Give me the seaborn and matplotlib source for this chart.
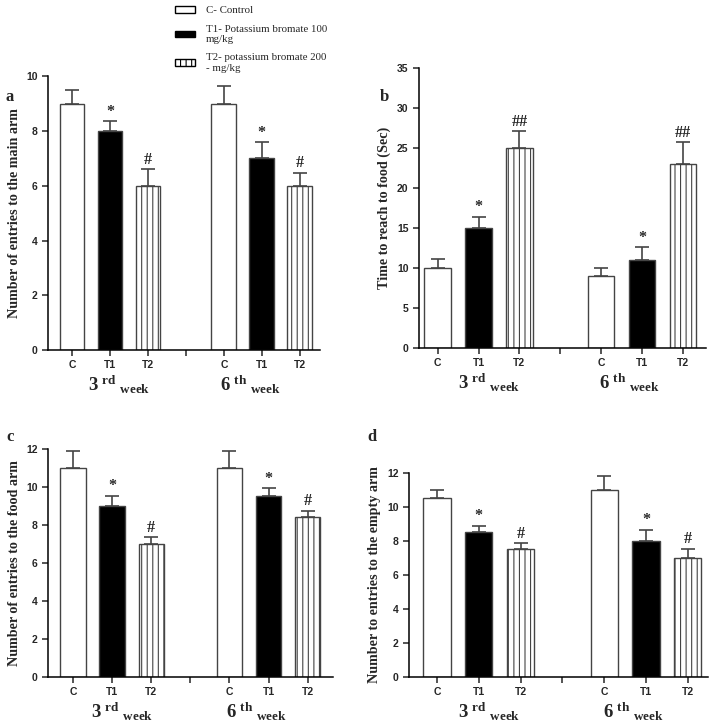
import pandas as pd
import seaborn as sns
import matplotlib.pyplot as plt
from matplotlib.patches import Patch

groups = ["C", "T1", "T2"]
weeks = ["3rd", "6th"]
slots = ["3rd C", "3rd T1", "3rd T2", "gap", "6th C", "6th T1", "6th T2"]
tick_labels = ["C", "T1", "T2", "", "C", "T1", "T2"]
week_labels = [r"$\mathbf{{3^{\ rd}}_{\ week}}$", r"$\mathbf{{6^{\ th}}_{\ week}}$"]

# panel a
main_arm = [9, 8, 6, 9, 7, 6]
main_arm_err = [0.5, 0.35, 0.6, 0.65, 0.6, 0.48]
# panel b
time_food = [10, 15, 25, 9, 11, 23]
time_food_err = [1.1, 1.4, 2.1, 1.0, 1.6, 2.7]
# panel c
food_arm = [11, 9, 7, 11, 9.5, 8.4]
food_arm_err = [0.9, 0.55, 0.35, 0.9, 0.45, 0.35]
# panel d
empty_arm = [10.5, 8.5, 7.5, 11, 8, 7]
empty_arm_err = [0.5, 0.4, 0.35, 0.8, 0.65, 0.55]

marks_single = ["", "*", "#", "", "*", "#"]
marks_double = ["", "*", "##", "", "*", "##"]

legend_labels = ["C- Control", "T1- Potassium bromate 100\nmg/kg",
                 "T2- potassium bromate 200\n- mg/kg"]

sns.set_style("ticks")
plt.rcParams["font.family"] = ["Liberation Sans", "DejaVu Sans"]
plt.rcParams["mathtext.fontset"] = "custom"
plt.rcParams["mathtext.rm"] = "Liberation Serif"
plt.rcParams["mathtext.bf"] = "Liberation Serif:bold"
plt.rcParams["hatch.linewidth"] = 0.8

EDGE = "#444444"
colors = {"C": "white", "T1": "black", "T2": "white"}


def make_df(values, errs, marks):
    rows = []
    i = 0
    for w in weeks:
        for g in groups:
            rows.append({"slot": f"{w} {g}", "group": g, "value": values[i],
                         "err": errs[i], "mark": marks[i]})
            i += 1
    return pd.DataFrame(rows)


def draw_panel(ax, df, ylabel, ymax, ystep, xlim):
    sns.barplot(data=df, x="slot", y="value", hue="group", order=slots,
                hue_order=groups, palette=colors, dodge=False, width=0.65,
                errorbar=None, edgecolor=EDGE, linewidth=1.0, legend=False, ax=ax)
    for p in ax.patches:
        cx = p.get_x() + p.get_width() / 2
        h = p.get_height()
        row = df[df["slot"] == slots[int(round(cx))]].iloc[0]
        if row["group"] == "T2":
            p.set_hatch("|||")
        ax.errorbar(cx, h, yerr=[[0], [row["err"]]], fmt="none", ecolor=EDGE,
                    elinewidth=1.2, capsize=5, capthick=1.2, zorder=1)
        if row["mark"]:
            ax.annotate(row["mark"], xy=(cx, h + row["err"]), xytext=(0, 1),
                        textcoords="offset points", ha="center", va="bottom",
                        fontsize=11.5, fontweight="bold", family="Liberation Serif")
    ax.set_xticks(range(len(slots)))
    ax.set_xticklabels(tick_labels, fontsize=7.5, fontweight="bold")
    ax.set_xlim(*xlim)
    ax.set_ylim(0, ymax)
    ax.set_yticks(range(0, ymax + 1, ystep))
    ax.tick_params(axis="y", labelsize=7.5, width=1.1, length=4)
    ax.tick_params(axis="x", width=1.1, length=4)
    for t in ax.get_yticklabels():
        t.set_fontweight("bold")
    ax.set_xlabel("")
    ax.set_ylabel(ylabel, fontsize=10.2, fontweight="bold", family="Liberation Serif",
                  labelpad=4)
    for s in ["left", "bottom"]:
        ax.spines[s].set_linewidth(1.1)
        ax.spines[s].set_color("black")
    sns.despine(ax=ax)
    for pos, lab in zip([1.25, 4.7], week_labels):
        ax.annotate(lab, xy=(pos, 0), xycoords=("data", "axes fraction"),
                    xytext=(0, -24), textcoords="offset pixels",
                    ha="center", va="top", fontsize=13.5)


fig = plt.figure(figsize=(7.1, 7.24), dpi=100)
ax_a = fig.add_axes([0.0676, 0.5166, 0.383, 0.378])
ax_b = fig.add_axes([0.590, 0.5193, 0.404, 0.387])
ax_c = fig.add_axes([0.0676, 0.0649, 0.401, 0.315])
ax_d = fig.add_axes([0.576, 0.0649, 0.421, 0.282])

draw_panel(ax_a, make_df(main_arm, main_arm_err, marks_single),
           "Number of entries to the main arm", 10, 2, (-0.63, 6.53))
draw_panel(ax_b, make_df(time_food, time_food_err, marks_double),
           "Time to reach to food (Sec)", 35, 5, (-0.46, 6.56))
draw_panel(ax_c, make_df(food_arm, food_arm_err, marks_single),
           "Number of entries to the food arm", 12, 2, (-0.64, 6.64))
draw_panel(ax_d, make_df(empty_arm, empty_arm_err, marks_single),
           "Number to entries to the empty arm", 12, 2, (-0.67, 6.48))

for letter, x, y in [("a", 5, 97), ("b", 380, 97), ("c", 6, 437), ("d", 367, 437)]:
    fig.text(x / 710, 1 - y / 724, letter, fontsize=12, fontweight="bold",
             family="Liberation Serif", va="center")

handles = [Patch(facecolor="white", edgecolor="black", linewidth=1.0),
           Patch(facecolor="black", edgecolor="black", linewidth=1.0),
           Patch(facecolor="white", edgecolor="black", linewidth=1.0, hatch="|||")]
fig.legend(handles, legend_labels, loc="upper left", bbox_to_anchor=(0.233, 1.005),
           frameon=False, prop={"family": "Liberation Serif", "size": 7.8},
           handlelength=1.8, handleheight=0.6, handletextpad=1.0, labelspacing=0.85)

fig.savefig("out.png", dpi=100)
